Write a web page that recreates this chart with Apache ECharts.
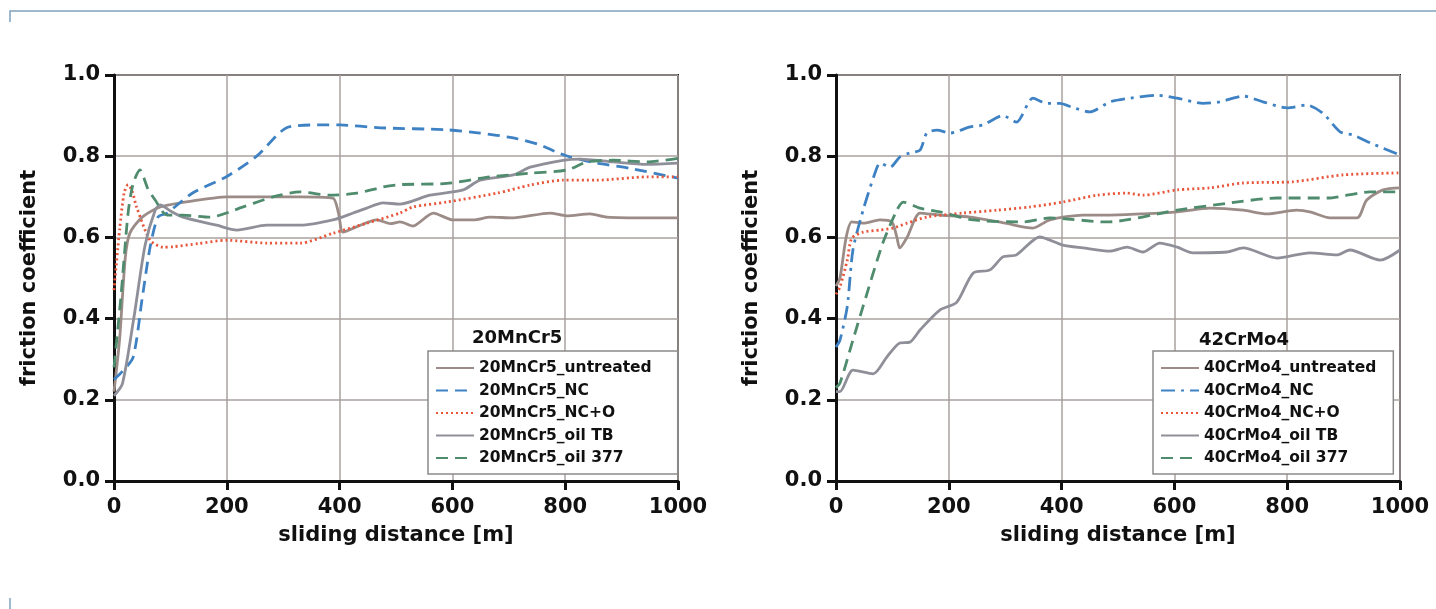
<!DOCTYPE html>
<html>
<head>
<meta charset="utf-8">
<script src="https://cdn.jsdelivr.net/npm/echarts@6/dist/echarts.min.js"></script>
<style>
	html, body { margin: 0; padding: 0; background: #fff; }
	#main { width: 1436px; height: 609px; }
</style>
</head>
<body>
<div id="main"></div>
<script>
// sliding distance [m], friction coefficient
var xTicks = [0, 200, 400, 600, 800, 1000];
var yTicks = [0.0, 0.2, 0.4, 0.6, 0.8, 1.0];

// 20MnCr5
var mnUntreated = [[0,0.22],[10,0.35],[20,0.55],[28,0.61],[50,0.65],[82,0.675],[140,0.69],[200,0.70],[260,0.70],[330,0.70],[388,0.697],[398,0.66],[406,0.613],[430,0.626],[466,0.643],[490,0.634],[507,0.638],[530,0.628],[566,0.66],[601,0.643],[637,0.643],[667,0.65],[708,0.648],[773,0.66],[803,0.653],[844,0.658],[874,0.65],[945,0.648],[1000,0.648]];
var mnNC = [[0,0.25],[15,0.27],[34,0.305],[50,0.45],[64,0.576],[78,0.65],[94,0.66],[140,0.71],[200,0.75],[253,0.80],[306,0.87],[360,0.877],[400,0.877],[472,0.87],[590,0.865],[649,0.857],[708,0.845],[755,0.828],[785,0.81],[809,0.798],[856,0.783],[915,0.77],[1000,0.746]];
var mnNCO = [[0,0.47],[10,0.62],[18,0.71],[25,0.73],[32,0.715],[40,0.675],[64,0.593],[87,0.576],[105,0.577],[150,0.585],[200,0.593],[271,0.586],[330,0.586],[388,0.61],[448,0.635],[507,0.66],[530,0.675],[590,0.687],[679,0.709],[738,0.729],[796,0.741],[856,0.741],[945,0.749],[1000,0.749]];
var mnOilTB = [[0,0.21],[15,0.24],[35,0.40],[55,0.58],[73,0.667],[82,0.68],[100,0.665],[122,0.65],[182,0.63],[218,0.618],[271,0.63],[330,0.63],[388,0.643],[424,0.66],[448,0.672],[477,0.685],[507,0.682],[560,0.704],[619,0.717],[649,0.741],[708,0.754],[738,0.773],[796,0.79],[826,0.793],[885,0.786],[945,0.78],[1000,0.783]];
var mnOil377 = [[0,0.28],[12,0.45],[25,0.66],[34,0.733],[46,0.766],[60,0.72],[73,0.692],[94,0.655],[122,0.655],[170,0.65],[229,0.675],[282,0.70],[330,0.712],[383,0.704],[431,0.709],[477,0.724],[507,0.73],[590,0.733],[667,0.749],[738,0.758],[803,0.766],[839,0.786],[885,0.79],[945,0.786],[1000,0.795]];

// 42CrMo4
var crUntreated = [[0,0.48],[7,0.50],[18,0.60],[28,0.638],[48,0.635],[78,0.643],[99,0.638],[108,0.60],[113,0.574],[126,0.60],[149,0.66],[184,0.655],[238,0.65],[300,0.635],[349,0.623],[379,0.643],[438,0.655],[486,0.655],[544,0.658],[605,0.663],[663,0.672],[722,0.667],[764,0.658],[817,0.667],[840,0.663],[876,0.648],[924,0.648],[941,0.692],[970,0.717],[1000,0.722]];
var crNC = [[0,0.33],[7,0.347],[20,0.43],[30,0.569],[48,0.667],[69,0.758],[78,0.783],[96,0.773],[113,0.798],[131,0.808],[149,0.815],[161,0.857],[179,0.864],[202,0.857],[238,0.872],[261,0.877],[296,0.90],[320,0.884],[349,0.943],[374,0.93],[397,0.93],[420,0.92],[450,0.909],[486,0.934],[521,0.943],[569,0.95],[605,0.943],[651,0.93],[681,0.934],[722,0.948],[757,0.934],[800,0.919],[835,0.926],[863,0.906],[894,0.86],[917,0.852],[947,0.833],[1000,0.803]];
var crNCO = [[0,0.46],[7,0.478],[20,0.544],[28,0.598],[48,0.613],[78,0.618],[101,0.623],[126,0.635],[161,0.65],[225,0.66],[285,0.667],[344,0.675],[402,0.687],[463,0.704],[516,0.709],[544,0.704],[605,0.717],[663,0.722],[722,0.734],[810,0.737],[899,0.754],[1000,0.759]];
var crOilTB = [[0,0.22],[7,0.22],[30,0.273],[66,0.264],[90,0.305],[113,0.34],[131,0.342],[149,0.372],[184,0.421],[214,0.44],[243,0.512],[273,0.52],[296,0.552],[320,0.557],[361,0.601],[402,0.581],[438,0.574],[486,0.566],[516,0.576],[544,0.564],[574,0.586],[605,0.576],[633,0.562],[693,0.564],[722,0.574],[782,0.549],[840,0.562],[888,0.557],[911,0.569],[965,0.544],[1000,0.569]];
var crOil377 = [[0,0.23],[7,0.241],[30,0.347],[48,0.43],[83,0.586],[108,0.667],[119,0.687],[149,0.672],[184,0.663],[243,0.643],[332,0.638],[379,0.648],[480,0.638],[605,0.667],[693,0.684],[782,0.697],[871,0.697],[947,0.712],[1000,0.712]];

var chart = echarts.init(document.getElementById('main'));

var FONT = 'DejaVu Sans';
var colUntreated = '#9c8c88';
var colNC = '#3f82c4';
var colNCO = '#e8553a';
var colOilTB = '#8f8f99';
var colOil377 = '#4f8c6e';

function xAxisOf(idx) {
	return {
		type: 'value', gridIndex: idx, min: 0, max: 1000, interval: 200,
		name: 'sliding distance [m]', nameLocation: 'middle', nameGap: 44,
		nameTextStyle: { fontFamily: FONT, fontWeight: 'bold', fontSize: 21, color: '#111' },
		axisLine: { onZero: false, lineStyle: { color: '#111', width: 3 } },
		axisTick: { length: 9, lineStyle: { color: '#111', width: 3 } },
		axisLabel: { margin: 16, fontFamily: FONT, fontWeight: 'bold', fontSize: 21, color: '#111',
			formatter: function (v) { return String(v); } },
		splitLine: { show: true, lineStyle: { color: '#a8a09e', width: 1.5 } }
	};
}
function yAxisOf(idx) {
	return {
		type: 'value', gridIndex: idx, min: 0, max: 1, interval: 0.2,
		name: 'friction coefficient', nameLocation: 'middle', nameGap: 74,
		nameTextStyle: { fontFamily: FONT, fontWeight: 'bold', fontSize: 21, color: '#111' },
		axisLine: { show: true, onZero: false, lineStyle: { color: '#111', width: 3 } },
		axisTick: { show: true, length: 9, lineStyle: { color: '#111', width: 3 } },
		axisLabel: { margin: 14, fontFamily: FONT, fontWeight: 'bold', fontSize: 21, color: '#111',
			formatter: function (v) { return v.toFixed(1); } },
		splitLine: { show: true, lineStyle: { color: '#a8a09e', width: 1.5 } }
	};
}
function line(name, data, idx, color, type, width) {
	return {
		name: name, type: 'line', xAxisIndex: idx, yAxisIndex: idx,
		data: data, showSymbol: false, symbol: 'none', symbolSize: 0, smooth: 0.25,
		lineStyle: { color: color, width: width || 2.8, type: type },
		itemStyle: { color: color },
		z: 3
	};
}
function legendOf(names, left, padRight) {
	return {
		data: names, orient: 'vertical', left: left, top: 351,
		itemWidth: 38, itemHeight: 10, itemGap: 6.5,
		padding: [9, padRight, 8, 7],
		backgroundColor: '#fff', borderColor: '#8a8a8a', borderWidth: 1.5,
		itemStyle: { opacity: 0 },
		textStyle: { fontFamily: FONT, fontWeight: 'bold', fontSize: 15.5, color: '#111' },
		selectedMode: false
	};
}

var mnNames = ['20MnCr5_untreated', '20MnCr5_NC', '20MnCr5_NC+O', '20MnCr5_oil TB', '20MnCr5_oil 377'];
var crNames = ['40CrMo4_untreated', '40CrMo4_NC', '40CrMo4_NC+O', '40CrMo4_oil TB', '40CrMo4_oil 377'];

var option = {
	backgroundColor: '#fff',
	animation: false,
	title: [
		{ text: '20MnCr5', left: 467, top: 324, textStyle: { fontFamily: FONT, fontWeight: 'bold', fontSize: 18, color: '#111' } },
		{ text: '42CrMo4', left: 1194, top: 326, textStyle: { fontFamily: FONT, fontWeight: 'bold', fontSize: 18, color: '#111' } }
	],
	grid: [
		{ left: 114, top: 75, width: 564, height: 406, show: true, borderColor: '#222', borderWidth: 2, backgroundColor: 'transparent' },
		{ left: 836, top: 75, width: 564, height: 406, show: true, borderColor: '#222', borderWidth: 2, backgroundColor: 'transparent' }
	],
	xAxis: [xAxisOf(0), xAxisOf(1)],
	yAxis: [yAxisOf(0), yAxisOf(1)],
	legend: [legendOf(mnNames, 428, 26), legendOf(crNames, 1153, 17)],
	series: [
		line(mnNames[0], mnUntreated, 0, colUntreated, 'solid'),
		line(mnNames[1], mnNC, 0, colNC, [12, 7]),
		line(mnNames[2], mnNCO, 0, colNCO, [2, 3]),
		line(mnNames[3], mnOilTB, 0, colOilTB, 'solid'),
		line(mnNames[4], mnOil377, 0, colOil377, [12, 7]),
		line(crNames[0], crUntreated, 1, colUntreated, 'solid'),
		line(crNames[1], crNC, 1, colNC, [14, 6, 3, 6]),
		line(crNames[2], crNCO, 1, colNCO, [2, 3]),
		line(crNames[3], crOilTB, 1, colOilTB, 'solid'),
		line(crNames[4], crOil377, 1, colOil377, [12, 7])
	],
	graphic: [
		{ type: 'polyline', shape: { points: [[10, 22], [10, 11], [1436, 11]] }, style: { stroke: '#7fa3bd', lineWidth: 1.5, fill: null } },
		{ type: 'line', shape: { x1: 10, y1: 598, x2: 10, y2: 609 }, style: { stroke: '#7fa3bd', lineWidth: 1.5 } }
	]
};

chart.setOption(option);
</script>
</body>
</html>
